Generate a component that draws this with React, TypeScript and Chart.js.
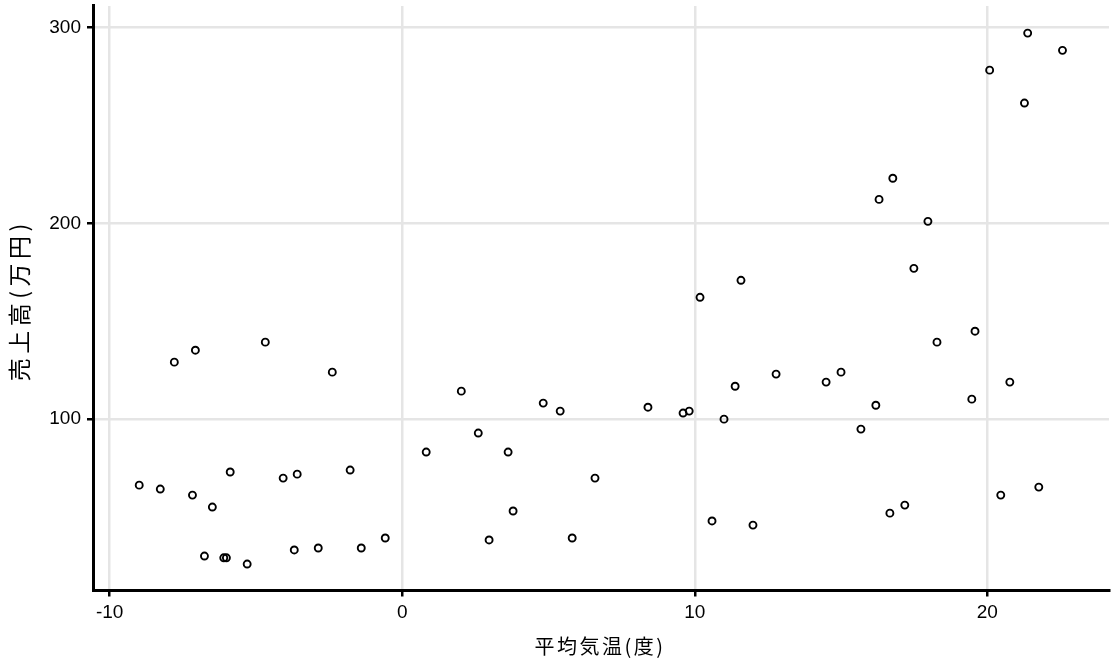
import React, { useEffect, useRef } from "react";
import { Chart, registerables } from "chart.js";

Chart.register(...registerables);

const temps = [
  -8.99, -8.27, -7.79, -7.17, -7.07, -6.76, -6.49, -6.1, -6.01, -5.88,
  -5.3, -4.68, -4.07, -3.69, -3.59, -2.87, -2.39, -1.78, -1.4, -0.58,
  0.82, 2.02, 2.6, 2.97, 3.62, 3.79, 4.82, 5.4, 5.81, 6.59,
  8.4, 9.6, 9.81, 10.18, 10.59, 11.0, 11.38, 11.58, 11.99, 12.78,
  14.49, 15.0, 15.68, 16.19, 16.3, 16.67, 16.77, 17.18, 17.49, 17.97,
  18.28, 19.47, 19.58, 20.08, 20.46, 20.77, 21.27, 21.38, 21.76, 22.57,
];

const sales = [
  66.3, 64.3, 129.1, 61.2, 135.2, 30.1, 55.1, 29.2, 29.2, 73.0,
  26.0, 139.3, 69.9, 33.2, 71.9, 34.2, 124.0, 74.0, 34.2, 39.3,
  83.2, 114.3, 92.9, 38.3, 83.2, 53.1, 108.2, 104.1, 39.3, 69.9,
  106.1, 103.1, 104.1, 162.2, 48.0, 100.0, 116.8, 170.9, 45.9, 123.0,
  118.9, 124.0, 94.9, 107.1, 212.2, 52.0, 223.0, 56.1, 177.0, 201.0,
  139.3, 110.2, 144.9, 278.2, 61.2, 118.9, 261.4, 297.1, 65.3, 288.3,
];

const xTicks = [-10, 0, 10, 20];
const yTicks = [100, 200, 300];
const xTitle = "平均気温(度)";
const yTitle = "売上高(万円)";

const axisTitles = {
  id: "axisTitles",
  afterDraw(chart: any) {
    const ctx = chart.ctx as CanvasRenderingContext2D;
    const area = chart.chartArea;
    ctx.save();
    ctx.fillStyle = "#000";
    ctx.textAlign = "center";
    ctx.textBaseline = "middle";
    ctx.font = "20px 'Noto Sans CJK JP', sans-serif";
    (ctx as any).letterSpacing = "2.5px";
    ctx.fillText(xTitle, (area.left + area.right) / 2 - 1, chart.height - 19);
    ctx.font = "23px 'Noto Sans CJK JP', sans-serif";
    (ctx as any).letterSpacing = "4.5px";
    ctx.translate(19, (area.top + area.bottom) / 2 + 4);
    ctx.rotate(-Math.PI / 2);
    ctx.fillText(yTitle, 2, 0);
    ctx.restore();
  },
};

export default function App() {
  const canvasRef = useRef<HTMLCanvasElement | null>(null);

  useEffect(() => {
    if (!canvasRef.current) return;
    const points = temps.map((t, i) => ({ x: t, y: sales[i] }));
    const tickFont = { family: "'Liberation Sans', Arial, sans-serif", size: 19 };
    const chart = new Chart(canvasRef.current, {
      type: "scatter",
      data: {
        datasets: [
          {
            data: points,
            pointStyle: "circle",
            pointRadius: 3.5,
            pointBorderWidth: 1.9,
            borderColor: "#000",
            backgroundColor: "rgba(0,0,0,0)",
          },
        ],
      },
      plugins: [axisTitles],
      options: {
        animation: false,
        responsive: false,
        devicePixelRatio: 1,
        layout: { padding: { left: 0, right: 7, top: 5, bottom: 0 } },
        plugins: { legend: { display: false }, tooltip: { enabled: false } },
        scales: {
          x: {
            type: "linear",
            min: -10.57,
            max: 24.16,
            afterBuildTicks: (s: any) => {
              s.ticks = xTicks.map((v) => ({ value: v }));
            },
            afterFit: (s: any) => {
              s.height = 74.5;
              s.paddingLeft = 0;
              s.paddingRight = 0;
              s.paddingTop = 0;
              s.paddingBottom = 0;
            },
            grid: {
              color: "#e5e5e5",
              lineWidth: 2.5,
              tickColor: "#000",
              tickWidth: 2.5,
              tickLength: 6,
            },
            border: { display: true, color: "#000", width: 3 },
            ticks: { color: "#000", font: tickFont, padding: 5, maxRotation: 0 },
            title: { display: false },
          },
          y: {
            type: "linear",
            min: 12.5,
            max: 311,
            afterBuildTicks: (s: any) => {
              s.ticks = yTicks.map((v) => ({ value: v }));
            },
            afterFit: (s: any) => {
              s.width = 93;
              s.paddingLeft = 0;
              s.paddingRight = 0;
              s.paddingTop = 0;
              s.paddingBottom = 0;
            },
            grid: {
              color: "#e5e5e5",
              lineWidth: 2.5,
              tickColor: "#000",
              tickWidth: 2.5,
              tickLength: 6,
            },
            border: { display: true, color: "#000", width: 3 },
            ticks: { color: "#000", font: tickFont, padding: 6 },
            title: { display: false },
          },
        },
      },
    });
    return () => chart.destroy();
  }, []);

  return (
    <div
      style={{
        position: "fixed",
        left: 0,
        top: 0,
        width: 1116,
        height: 665,
        background: "#ffffff",
      }}
    >
      <canvas ref={canvasRef} width={1116} height={665} style={{ width: 1116, height: 665, display: "block" }} />
    </div>
  );
}
